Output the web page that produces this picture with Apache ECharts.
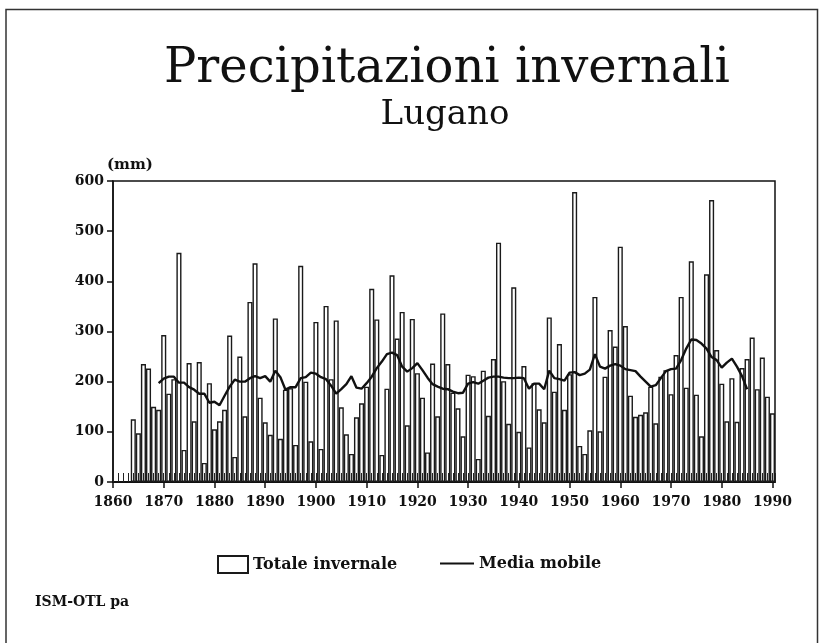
<!DOCTYPE html>
<html>
<head>
<meta charset="utf-8">
<script src="https://cdn.jsdelivr.net/npm/echarts@6/dist/echarts.min.js"></script>
<style>
  html, body { margin: 0; padding: 0; background: #fff; }
  #chart { width: 822px; height: 643px; }
</style>
</head>
<body>
<div id="chart"></div>
<script>
// anni e totali invernali (mm)
const firstYear = 1864;
const totals = [
    125, 97, 235, 226, 150, 144,                  // 1864-1869
    293, 176, 205, 457, 64, 237, 121, 239, 38, 197, // 1870-1879
    105, 121, 144, 292, 50, 250, 131, 359, 436, 168, // 1880-1889
    119, 94, 326, 86, 184, 187, 74, 431, 200, 81,  // 1890-1899
    319, 66, 351, 205, 322, 149, 95, 56, 129, 157, // 1900-1909
    190, 385, 324, 54, 186, 412, 286, 339, 113, 325, // 1910-1919
    217, 168, 59, 236, 131, 336, 235, 178, 147, 91, // 1920-1929
    214, 211, 46, 222, 132, 245, 477, 201, 116, 388, // 1930-1939
    100, 231, 69, 197, 145, 119, 328, 180, 275, 144, // 1940-1949
    215, 578, 72, 56, 103, 369, 101, 210, 303, 270, // 1950-1959
    469, 311, 172, 130, 134, 139, 190, 117, 210, 223, // 1960-1969
    175, 253, 369, 188, 440, 174, 91, 414, 562, 263, // 1970-1979
    196, 121, 207, 120, 227, 245, 288, 185, 248, 170, // 1980-1989
    137                                             // 1990
];

// media mobile
const maFirstYear = 1869;
const movingAvg = [
    197,                                            // 1869
    206, 210, 210, 198, 198, 189, 184, 176, 176, 158, // 1870-1879
    160, 153, 172, 190, 204, 200, 200, 207, 211, 207, // 1880-1889
    211, 200, 222, 209, 184, 189, 189, 207, 209, 218, // 1890-1899
    216, 209, 205, 192, 176, 185, 195, 211, 188, 186, // 1900-1909
    197, 210, 227, 240, 255, 258, 253, 230, 220, 227, // 1910-1919
    237, 223, 208, 195, 190, 186, 185, 180, 177, 178, // 1920-1929
    196, 199, 196, 202, 208, 210, 210, 208, 207, 207, // 1930-1939
    208, 207, 186, 196, 196, 185, 222, 207, 205, 202, // 1940-1949
    218, 219, 213, 216, 224, 255, 230, 226, 232, 235, // 1950-1959
    232, 225, 223, 221, 210, 200, 190, 193, 207, 221, // 1960-1969
    225, 226, 243, 266, 284, 283, 276, 266, 249, 243, // 1970-1979
    228, 238, 246, 230, 211, 185                    // 1980-1985
];

const yTicks = [0, 100, 200, 300, 400, 500, 600];

const barData = totals.map((v, i) => [firstYear + i, v]);
const lineData = movingAvg.map((v, i) => [maFirstYear + i, v]);

const boldFont = {
    fontFamily: 'DejaVu Serif',
    fontWeight: 'bold',
    color: '#111'
};

const chart = echarts.init(document.getElementById('chart'), null, { renderer: 'canvas' });

const option = {
    backgroundColor: '#fff',
    animation: false,
    title: [{
        text: 'Precipitazioni invernali',
        left: 442,
        top: 41,
        textAlign: 'center',
        textStyle: { fontFamily: 'DejaVu Serif', fontWeight: 'normal', fontSize: 48, color: '#111' }
    }, {
        text: 'Lugano',
        left: 440,
        top: 93,
        textAlign: 'center',
        textStyle: { fontFamily: 'DejaVu Serif', fontWeight: 'normal', fontSize: 34, color: '#111' }
    }],
    grid: {
        left: 113,
        right: 47,
        top: 181,
        bottom: 161,
        show: true,
        borderColor: '#111',
        borderWidth: 1.5,
        backgroundColor: 'transparent'
    },
    legend: [{
        left: 212,
        top: 550,
        itemWidth: 30,
        itemHeight: 17,
        textStyle: Object.assign({ fontSize: 16 }, boldFont),
        data: [{ name: 'Totale invernale', icon: 'rect' }]
    }, {
        left: 435,
        top: 550,
        itemWidth: 34,
        itemHeight: 2,
        textStyle: Object.assign({ fontSize: 16, lineHeight: 17 }, boldFont),
        data: [{ name: 'Media mobile', icon: 'rect' }]
    }],
    xAxis: [{
        type: 'value',
        min: 1860,
        max: 1990.5,
        interval: 10,
        axisLine: { lineStyle: { color: '#111', width: 2 } },
        axisTick: { show: true, length: 6, lineStyle: { color: '#111', width: 1.5 } },
        axisLabel: Object.assign({
            fontSize: 14,
            margin: 13,
            formatter: v => (v % 10 === 0 ? String(v) : ''),
            showMaxLabel: false
        }, boldFont),
        splitLine: { show: false }
    }, {
        type: 'value',
        min: 1860,
        max: 1990.5,
        interval: 1,
        position: 'bottom',
        z: 10,
        axisLine: { show: false },
        axisTick: { show: true, inside: true, length: 9, lineStyle: { color: '#222', width: 1 } },
        axisLabel: { show: false },
        splitLine: { show: false }
    }],
    yAxis: {
        type: 'value',
        min: yTicks[0],
        max: yTicks[yTicks.length - 1],
        interval: 100,
        axisLine: { show: true, lineStyle: { color: '#111', width: 1.5 } },
        axisTick: { show: true, length: 6, lineStyle: { color: '#111', width: 1.5 } },
        axisLabel: Object.assign({ fontSize: 14, margin: 9 }, boldFont),
        splitLine: { show: false }
    },
    graphic: [{
        type: 'rect',
        shape: { x: 6, y: 9.5, width: 811.5, height: 640 },
        style: { fill: 'none', stroke: '#333', lineWidth: 1.5 },
        silent: true
    }, {
        type: 'text',
        left: 107,
        top: 158,
        style: { text: '(mm)', fontFamily: 'DejaVu Serif', fontWeight: 'bold', fontSize: 15, fill: '#111' }
    }, {
        type: 'text',
        left: 35,
        top: 595,
        style: { text: 'ISM-OTL pa', fontFamily: 'DejaVu Serif', fontWeight: 'bold', fontSize: 14, fill: '#111' }
    }],
    series: [{
        name: 'Totale invernale',
        type: 'bar',
        xAxisIndex: 0,
        barWidth: 5.07,
        itemStyle: { color: '#fff', borderColor: '#1a1a1a', borderWidth: 1.4 },
        data: barData
    }, {
        name: 'Media mobile',
        type: 'line',
        xAxisIndex: 0,
        symbol: 'none',
        showSymbol: false,
        lineStyle: { color: '#111', width: 2.4 },
        itemStyle: { color: '#111' },
        data: lineData,
        z: 5
    }]
};

chart.setOption(option);
</script>
</body>
</html>
